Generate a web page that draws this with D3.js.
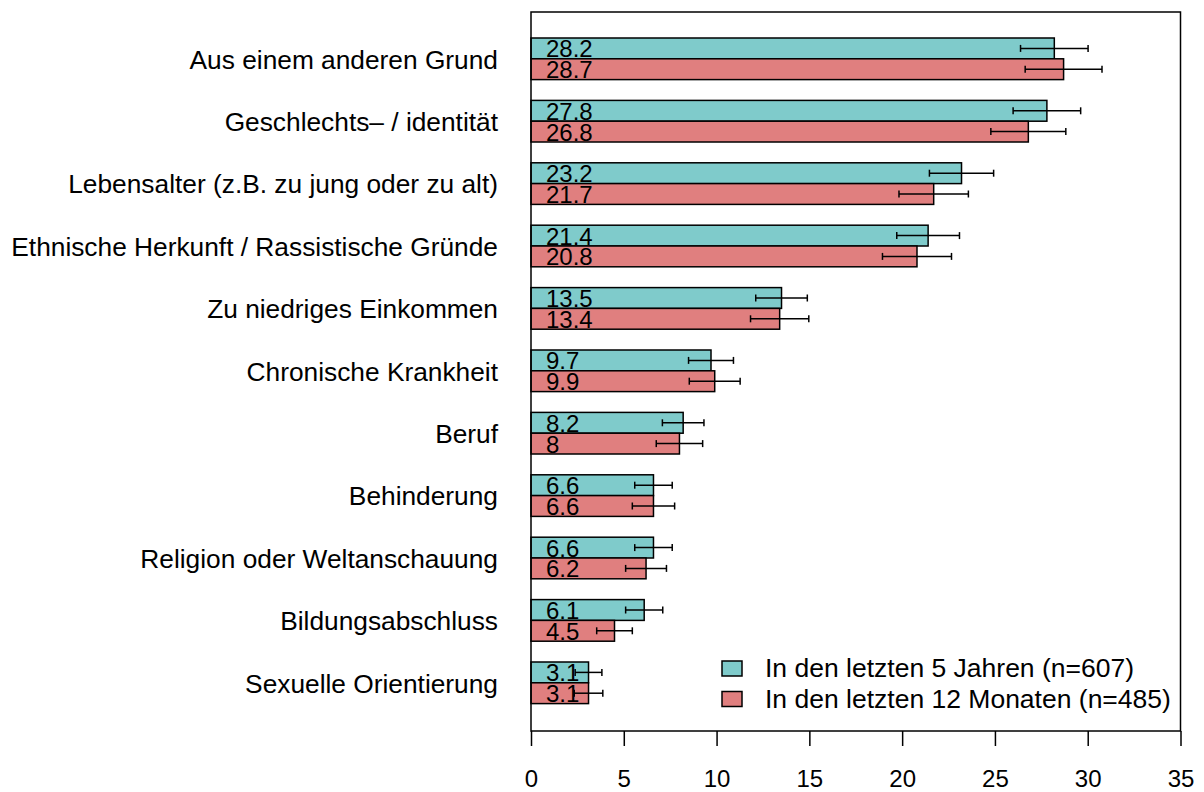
<!DOCTYPE html>
<html>
<head>
<meta charset="utf-8">
<script src="https://cdn.jsdelivr.net/npm/d3@7"></script>
<style>
  body { margin: 0; background: #fff; }
  svg { font-family: "Liberation Sans", Arial, Helvetica, sans-serif; }
</style>
</head>
<body>
<svg id="chart" width="1204" height="792"></svg>
<script>
// categories, top to bottom
var categories = [
    "Aus einem anderen Grund",
    "Geschlechts\u2013 / identität",
    "Lebensalter (z.B. zu jung oder zu alt)",
    "Ethnische Herkunft / Rassistische Gründe",
    "Zu niedriges Einkommen",
    "Chronische Krankheit",
    "Beruf",
    "Behinderung",
    "Religion oder Weltanschauung",
    "Bildungsabschluss",
    "Sexuelle Orientierung"
];
var seriesNames = ["In den letzten 5 Jahren (n=607)", "In den letzten 12 Monaten (n=485)"];
var fiveYears    = [28.2, 27.8, 23.2, 21.4, 13.5, 9.7, 8.2, 6.6, 6.6, 6.1, 3.1];
var twelveMonths = [28.7, 26.8, 21.7, 20.8, 13.4, 9.9, 8.0, 6.6, 6.2, 4.5, 3.1];
// half width of the error bars
var fiveYearsErr    = [1.82, 1.82, 1.73, 1.69, 1.39, 1.21, 1.12, 1.01, 1.01, 1.00, 0.72];
var twelveMonthsErr = [2.07, 2.02, 1.87, 1.86, 1.57, 1.37, 1.25, 1.14, 1.10, 0.96, 0.77];
var xTicks = [0, 5, 10, 15, 20, 25, 30, 35];
var colors = ["#7fcbcb", "#e07f7f"];

var svg = d3.select("#chart");

var box = { left: 531, right: 1180.5, top: 12, bottom: 731 };

var x = d3.scaleLinear().domain([0, 35]).range([box.left, box.right]);
var y = d3.scaleBand().domain(categories).range([38, 703.6]).paddingInner(1 / 3).paddingOuter(0);
var ySub = d3.scaleBand().domain([0, 1]).range([0, y.bandwidth()]);

var rows = [];
categories.forEach(function(c, i) {
    rows.push({ cat: c, s: 0, v: fiveYears[i], e: fiveYearsErr[i] });
    rows.push({ cat: c, s: 1, v: twelveMonths[i], e: twelveMonthsErr[i] });
});

// bars
svg.append("g").selectAll("rect")
    .data(rows).enter().append("rect")
    .attr("x", x(0))
    .attr("y", function(d) { return y(d.cat) + ySub(d.s); })
    .attr("width", function(d) { return x(d.v) - x(0); })
    .attr("height", ySub.bandwidth())
    .attr("fill", function(d) { return colors[d.s]; })
    .attr("stroke", "#000")
    .attr("stroke-width", 1.5);

// value labels inside the bars
svg.append("g").selectAll("text")
    .data(rows).enter().append("text")
    .attr("x", x(0) + 15)
    .attr("y", function(d) { return y(d.cat) + ySub(d.s) + ySub.bandwidth() - 1.5; })
    .attr("font-size", 24)
    .attr("fill", "#000")
    .text(function(d) { return String(d.v); });

// error bars
var err = svg.append("g").attr("stroke", "#000").attr("stroke-width", 1.5);
rows.forEach(function(d) {
    var cy = y(d.cat) + ySub(d.s) + ySub.bandwidth() / 2;
    var x0 = x(d.v - d.e), x1 = x(d.v + d.e);
    err.append("line").attr("x1", x0).attr("x2", x1).attr("y1", cy).attr("y2", cy);
    err.append("line").attr("x1", x0).attr("x2", x0).attr("y1", cy - 3.5).attr("y2", cy + 3.5);
    err.append("line").attr("x1", x1).attr("x2", x1).attr("y1", cy - 3.5).attr("y2", cy + 3.5);
});

// category labels
svg.append("g").selectAll("text")
    .data(categories).enter().append("text")
    .attr("x", 498)
    .attr("y", function(d) { return y(d) + y.bandwidth() / 2 + 9.8; })
    .attr("text-anchor", "end")
    .attr("font-size", 26.3)
    .text(function(d) { return d; });

// plot frame
svg.append("rect")
    .attr("x", box.left).attr("y", box.top)
    .attr("width", box.right - box.left).attr("height", box.bottom - box.top)
    .attr("fill", "none").attr("stroke", "#000").attr("stroke-width", 1.5);

// x axis
var xAxis = d3.axisBottom(x).tickValues(xTicks).tickSize(15).tickPadding(39).tickSizeOuter(0);
var gx = svg.append("g").attr("transform", "translate(0," + box.bottom + ")").call(xAxis);
gx.select(".domain").remove();
gx.selectAll(".tick line").attr("stroke", "#000").attr("stroke-width", 1.5);
gx.selectAll(".tick text")
    .attr("dy", null)
    .attr("font-size", 24)
    .attr("font-family", "Liberation Sans, Arial, sans-serif")
    .attr("fill", "#000")
    .attr("y", 56);

// legend
var legend = svg.append("g");
seriesNames.forEach(function(name, i) {
    var ly = 677 + i * 30.5;
    legend.append("rect")
        .attr("x", 722).attr("y", ly - 16)
        .attr("width", 20).attr("height", 15)
        .attr("fill", colors[i]).attr("stroke", "#000").attr("stroke-width", 1.5);
    legend.append("text")
        .attr("x", 765).attr("y", ly)
        .attr("font-size", 26.5)
        .text(name);
});
</script>
</body>
</html>
